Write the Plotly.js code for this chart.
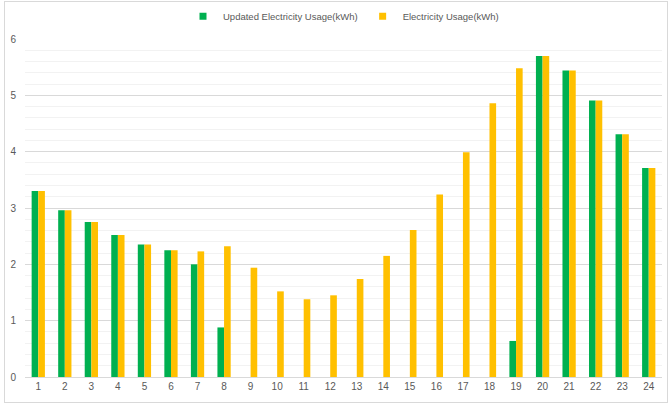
<!DOCTYPE html>
<html>
<head>
<meta charset="utf-8">
<script src="https://cdn.plot.ly/plotly-3.0.1.min.js"></script>
<style>
  html, body { margin: 0; padding: 0; background: #fff; }
  #wrap { position: relative; width: 668px; height: 404px; }
  #chart { width: 668px; height: 404px; }
  #frame { position: absolute; left: 4px; top: 1px; width: 662px; height: 400px;
           border: 1px solid #d9d9d9; pointer-events: none; }
</style>
</head>
<body>
<div id="wrap">
  <div id="chart"></div>
  <div id="frame"></div>
</div>
<script>
const hours = ["1","2","3","4","5","6","7","8","9","10","11","12","13","14","15","16","17","18","19","20","21","22","23","24"];
const updatedUsage = [3.30, 2.96, 2.75, 2.52, 2.35, 2.25, 2.00, 0.88, null, null, null, null, null, null, null, null, null, null, 0.64, 5.70, 5.44, 4.91, 4.31, 3.71];
const originalUsage = [3.30, 2.96, 2.75, 2.52, 2.35, 2.25, 2.23, 2.32, 1.94, 1.52, 1.38, 1.45, 1.74, 2.15, 2.61, 3.24, 3.99, 4.86, 5.48, 5.70, 5.44, 4.91, 4.31, 3.71];
const seriesNames = ["Updated Electricity Usage(kWh)", "Electricity Usage(kWh)"];
const colors = ["#00B050", "#FFC000"];

const font = "Liberation Sans, Arial, sans-serif";

const traces = [
  { type: "bar", x: hours, y: updatedUsage, name: seriesNames[0],
    marker: { color: colors[0] }, showlegend: false },
  { type: "bar", x: hours, y: originalUsage, name: seriesNames[1],
    marker: { color: colors[1] }, showlegend: false },
  { type: "scatter", mode: "markers", x: [null], y: [null], name: seriesNames[0],
    marker: { color: colors[0], symbol: "square", size: 7 } },
  { type: "scatter", mode: "markers", x: [null], y: [null], name: seriesNames[1],
    marker: { color: colors[1], symbol: "square", size: 7 } }
];

const layout = {
  width: 668, height: 404,
  margin: { l: 25, r: 6, t: 39, b: 27, autoexpand: false },
  paper_bgcolor: "#fff", plot_bgcolor: "#fff",
  barmode: "group", bargap: 0.5, bargroupgap: 0,
  font: { family: font, color: "#595959", size: 10 },
  showlegend: true,
  legend: { orientation: "h", x: 0.5, xanchor: "center",
            yref: "container", y: 0.96, yanchor: "middle",
            font: { family: font, size: 9.5, color: "#595959" }, itemwidth: 30,
            traceorder: "normal" },
  xaxis: { type: "category", showline: true, linecolor: "#d9d9d9", linewidth: 1,
           showgrid: false, ticks: "", tickfont: { size: 10, color: "#595959" } },
  yaxis: { range: [0, 6], dtick: 1, showline: false, zeroline: false,
           gridcolor: "#d9d9d9", gridwidth: 1, ticks: "",
           tickfont: { size: 10, color: "#595959" }, ticklabelstandoff: 8,
           minor: { dtick: 0.2, showgrid: true, gridcolor: "#f2f2f2", gridwidth: 1 } }
};

Plotly.newPlot("chart", traces, layout, { staticPlot: true, displayModeBar: false });
</script>
</body>
</html>
